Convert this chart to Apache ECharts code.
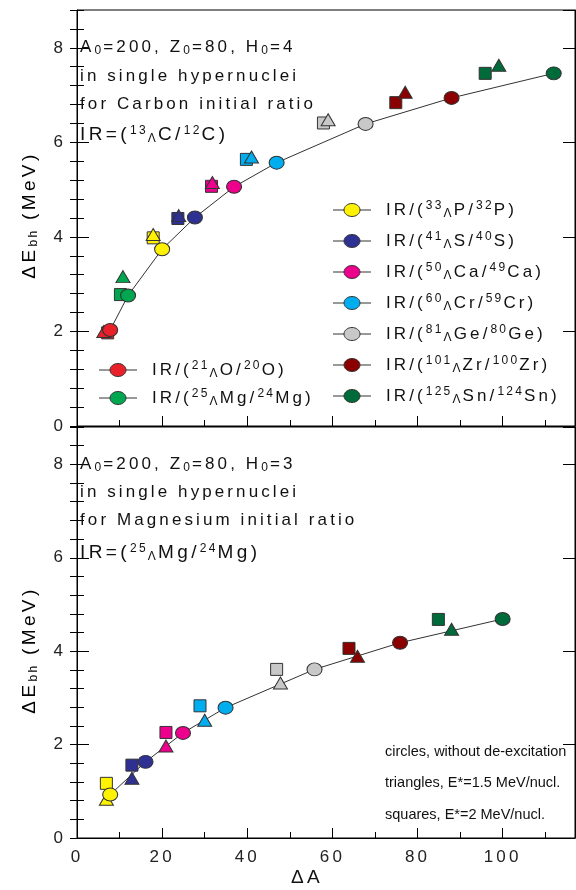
<!DOCTYPE html>
<html><head><meta charset="utf-8">
<script src="https://cdn.jsdelivr.net/npm/echarts@6/dist/echarts.min.js"></script>
<style>html,body{margin:0;padding:0;background:#fff}#c{width:576px;height:890px}</style>
</head><body><div id="c"></div>
<script>
// ---------- DATA ----------
// Top panel (Carbon initial ratio, H0=4): nuclei order
const topNuclei = ['O', 'Mg', 'P', 'S', 'Ca', 'Cr', 'Ge', 'Zr', 'Sn'];
const topCircleX = [7.8, 12.0, 20.0, 27.7, 36.9, 46.9, 67.8, 88.0, 112.0];
const topCircleY = [2.03, 2.76, 3.74, 4.41, 5.06, 5.57, 6.39, 6.94, 7.46];
const topSquareX = [7.2, 10.2, 17.9, 23.7, 31.6, 39.8, 57.9, 74.9, 95.9];
const topSquareY = [1.97, 2.78, 3.98, 4.39, 5.07, 5.64, 6.41, 6.84, 7.46];
const topTriX = [6.3, 10.8, 17.9, 23.9, 31.8, 41.0, 59.0, 77.1, 99.1];
const topTriY = [2.00, 3.16, 4.05, 4.45, 5.15, 5.69, 6.48, 7.06, 7.63];
// Bottom panel (Magnesium initial ratio, H0=3)
const botNuclei = ['P', 'S', 'Ca', 'Cr', 'Ge', 'Zr', 'Sn'];
const botCircleX = [7.8, 16.1, 24.9, 34.9, 55.8, 75.9, 100.0];
const botCircleY = [0.93, 1.63, 2.25, 2.79, 3.61, 4.18, 4.69];
const botSquareX = [6.9, 12.9, 20.9, 28.9, 46.9, 63.9, 84.9];
const botSquareY = [1.17, 1.56, 2.26, 2.83, 3.61, 4.06, 4.68];
const botTriX = [6.9, 12.9, 20.9, 30.0, 47.8, 65.9, 88.0];
const botTriY = [0.83, 1.28, 1.97, 2.52, 3.32, 3.89, 4.47];
// axis ticks
const xMajorTicks = [0, 20, 40, 60, 80, 100];
const yMajorTicks = [0, 2, 4, 6, 8];

// ---------- STYLE ----------
// letter tracking like the original typesetting (wide-tracked Arial)
(function () {
  const proto = CanvasRenderingContext2D.prototype;
  if (!('letterSpacing' in proto)) return;
  const lsFor = font => {
    const m = /(\d+(?:\.\d+)?)px/.exec(font || '');
    const s = m ? +m[1] : 12;
    if (s === 14.5) return 0;          // bottom-right note text: normal tracking
    return Math.round(s * 0.18 * 10) / 10;
  };
  const of = proto.fillText, om = proto.measureText, os = proto.strokeText;
  proto.fillText = function (t, x, y, w) { this.letterSpacing = lsFor(this.font) + 'px'; return w === undefined ? of.call(this, t, x, y) : of.call(this, t, x, y, w); };
  proto.strokeText = function (t, x, y, w) { this.letterSpacing = lsFor(this.font) + 'px'; return w === undefined ? os.call(this, t, x, y) : os.call(this, t, x, y, w); };
  proto.measureText = function (t) { this.letterSpacing = lsFor(this.font) + 'px'; return om.call(this, t); };
})();

const nucleusColor = {
  O: '#e8202a', Mg: '#00a650', P: '#fff200', S: '#2e3192', Ca: '#ec008c',
  Cr: '#00aeef', Ge: '#c8c8c8', Zr: '#8b0000', Sn: '#006b3a'
};
const FONT = 'Liberation Sans';
const X_MAX = 117, Y_MAX = 8.8;

const grids = [
  { left: 77, right: 1, top: 10, height: 416, show: true, borderColor: '#000', borderWidth: 1, backgroundColor: 'transparent' },
  { left: 77, right: 1, top: 427, height: 411, show: true, borderColor: '#000', borderWidth: 1, backgroundColor: 'transparent' }
];

const xAxes = [], yAxes = [];
function axisLineStyle() { return { show: true, onZero: false, lineStyle: { color: '#000', width: 1 } }; }
[0, 1].forEach(g => {
  xAxes.push({
    type: 'value', gridIndex: g, min: 0, max: X_MAX, interval: 20, position: 'bottom',
    axisLine: axisLineStyle(), splitLine: { show: false },
    axisTick: { show: true, inside: true, length: 10, lineStyle: { color: '#000' } },
    axisLabel: { show: g === 1, margin: 9, showMaxLabel: false, color: '#222', fontFamily: FONT, fontSize: 17,
      formatter: v => xMajorTicks.indexOf(v) >= 0 ? String(v) : '' }
  });
  xAxes.push({
    type: 'value', gridIndex: g, min: 0, max: X_MAX, interval: 10, position: 'bottom',
    axisLine: { show: false }, splitLine: { show: false }, axisLabel: { show: false },
    axisTick: { show: true, inside: true, length: 6, lineStyle: { color: '#000' } }
  });
  ['left', 'right'].forEach(pos => {
    yAxes.push({
      type: 'value', gridIndex: g, min: 0, max: Y_MAX, interval: 2, position: pos,
      axisLine: axisLineStyle(), splitLine: { show: false },
      axisTick: { show: true, inside: true, length: 12, lineStyle: { color: '#000' } },
      axisLabel: { show: pos === 'left', margin: 11, showMaxLabel: false, color: '#222', fontFamily: FONT, fontSize: 17,
        formatter: v => yMajorTicks.indexOf(v) >= 0 ? String(v) : '' }
    });
    yAxes.push({
      type: 'value', gridIndex: g, min: 0, max: Y_MAX, interval: 0.4, position: pos,
      axisLine: { show: false }, splitLine: { show: false }, axisLabel: { show: false },
      axisTick: { show: true, inside: true, length: 7, lineStyle: { color: '#000' } }
    });
  });
});

const series = [];
function zip(xs, ys) { return xs.map((x, i) => [x, ys[i]]); }
function addPanel(g, nuclei, cx, cy, sx, sy, tx, ty) {
  const xi = g * 2, yi = g * 4;
  series.push({
    type: 'line', xAxisIndex: xi, yAxisIndex: yi, data: zip(cx, cy), showSymbol: false, symbol: 'none',
    lineStyle: { color: '#333', width: 1 }, z: 1, silent: true
  });
  nuclei.forEach((n, i) => {
    const common = { xAxisIndex: xi, yAxisIndex: yi, type: 'scatter', silent: true,
      itemStyle: { color: nucleusColor[n], borderColor: '#333', borderWidth: 1, opacity: 1 } };
    series.push(Object.assign({}, common, { symbol: 'rect', symbolSize: 12, data: [[sx[i], sy[i]]], z: 2 }));
    series.push(Object.assign({}, common, { symbol: 'triangle', symbolSize: [14, 12], data: [[tx[i], ty[i]]], z: 3 }));
    series.push(Object.assign({}, common, { symbol: 'circle', symbolSize: [15, 13], data: [[cx[i], cy[i]]], z: 4 }));
  });
}
addPanel(0, topNuclei, topCircleX, topCircleY, topSquareX, topSquareY, topTriX, topTriY);
addPanel(1, botNuclei, botCircleX, botCircleY, botSquareX, botSquareY, botTriX, botTriY);

// ---------- TEXT / LEGEND ----------
const rich = {
  n: { fontFamily: FONT, fontSize: 17, color: '#111', lineHeight: 22, verticalAlign: 'middle' },
  b: { fontFamily: FONT, fontSize: 19, color: '#111', lineHeight: 22, verticalAlign: 'middle' },
  t: { fontFamily: FONT, fontSize: 19, color: '#111', lineHeight: 22, verticalAlign: 'middle' },
  sup: { fontFamily: FONT, fontSize: 12, color: '#111', lineHeight: 11, verticalAlign: 'top' },
  sub: { fontFamily: FONT, fontSize: 12, color: '#111', lineHeight: 9, verticalAlign: 'bottom' }
};
function txt(x, y, text, size) {
  return { type: 'text', x: x, y: y, silent: true, z: 10,
    style: { text: text, rich: rich, fontFamily: FONT, fontSize: size || 17, fill: '#111', verticalAlign: 'middle', align: 'left' } };
}
const legendTopLeft = [['21', 'O', '20', 'O'], ['25', 'Mg', '24', 'Mg']];
const legendTopRight = [['33', 'P', '32', 'P'], ['41', 'S', '40', 'S'], ['50', 'Ca', '49', 'Ca'],
  ['60', 'Cr', '59', 'Cr'], ['81', 'Ge', '80', 'Ge'], ['101', 'Zr', '100', 'Zr'], ['125', 'Sn', '124', 'Sn']];
function irLabel(e) { return '{n|IR/(}{sup|' + e[0] + '}{sub|Λ}{n|' + e[1] + '/}{sup|' + e[2] + '}{n|' + e[3] + ')}'; }
const graphics = [];
function legendItem(x0, y, e) {
  graphics.push({ type: 'line', silent: true, z: 10, shape: { x1: x0, y1: y, x2: x0 + 38, y2: y }, style: { stroke: '#333', lineWidth: 1 } });
  graphics.push({ type: 'ellipse', silent: true, z: 11, shape: { cx: x0 + 19, cy: y, rx: 8, ry: 6.5 },
    style: { fill: nucleusColor[e[1]], stroke: '#333', lineWidth: 1 } });
  graphics.push(txt(x0 + 53, y, irLabel(e)));
}
legendTopLeft.forEach((e, i) => legendItem(99, 370 + i * 28, e));
legendTopRight.forEach((e, i) => legendItem(333, 210 + i * 31, e));

graphics.push(txt(80, 47, '{n|A}{sub|0}{n|=200, Z}{sub|0}{n|=80, H}{sub|0}{n|=4}'));
graphics.push(txt(80, 76, 'in single hypernuclei'));
graphics.push(txt(80, 104, 'for Carbon initial ratio'));
graphics.push(txt(80, 135, '{b|IR=(}{sup|13}{sub|Λ}{b|C/}{sup|12}{b|C)}'));
graphics.push(txt(80, 464, '{n|A}{sub|0}{n|=200, Z}{sub|0}{n|=80, H}{sub|0}{n|=3}'));
graphics.push(txt(80, 492, 'in single hypernuclei'));
graphics.push(txt(80, 520, 'for Magnesium initial ratio'));
graphics.push(txt(80, 553, '{b|IR=(}{sup|25}{sub|Λ}{b|Mg/}{sup|24}{b|Mg)}'));
graphics.push(txt(385, 752, 'circles, without de-excitation', 14.5));
graphics.push(txt(385, 783, 'triangles, E*=1.5 MeV/nucl.', 14.5));
graphics.push(txt(385, 815, 'squares, E*=2 MeV/nucl.', 14.5));
const yTitle = '{t|ΔE}{sub|bh}{t| (MeV)}';
graphics.push({ type: 'text', x: 30, y: 215, rotation: Math.PI / 2, silent: true,
  style: { text: yTitle, rich: rich, align: 'center', verticalAlign: 'middle' } });
graphics.push({ type: 'text', x: 30, y: 650, rotation: Math.PI / 2, silent: true,
  style: { text: yTitle, rich: rich, align: 'center', verticalAlign: 'middle' } });
graphics.push({ type: 'text', x: 307, y: 878, silent: true,
  style: { text: 'ΔA', fontFamily: FONT, fontSize: 19, fill: '#111', align: 'center', verticalAlign: 'middle' } });

const chart = echarts.init(document.getElementById('c'), null, { renderer: 'canvas' });
chart.setOption({
  animation: false,
  backgroundColor: '#fff',
  grid: grids,
  xAxis: xAxes,
  yAxis: yAxes,
  series: series,
  graphic: graphics
});
</script></body></html>
